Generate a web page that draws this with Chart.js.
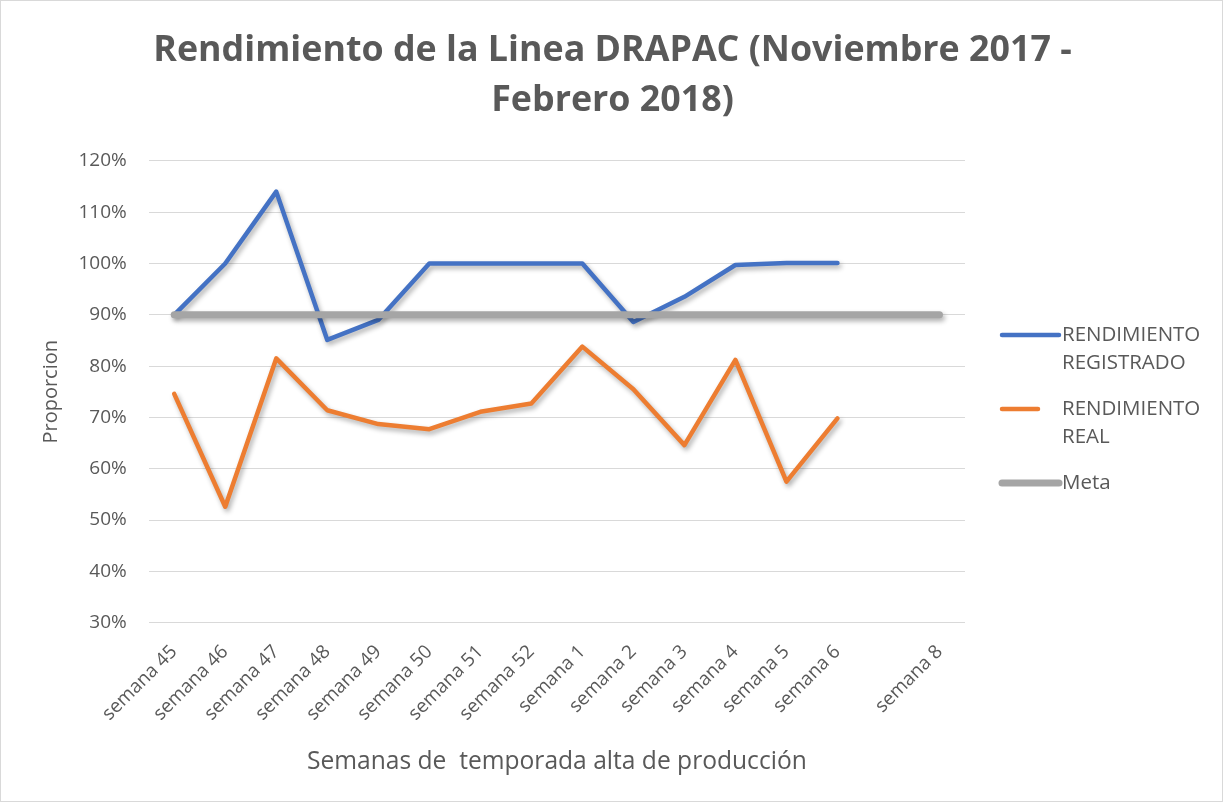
<!DOCTYPE html>
<html>
<head>
<meta charset="utf-8">
<script src="https://cdn.jsdelivr.net/npm/chart.js@4"></script>
<style>
  html, body { margin: 0; padding: 0; background: #ffffff; }
  #wrap { position: absolute; left: 0; top: 0; width: 1225px; height: 803px; }
</style>
</head>
<body>
<div id="wrap"><canvas id="c" width="1225" height="803"></canvas></div>
<script>
// ---- data ----
const categories = ['semana 45', 'semana 46', 'semana 47', 'semana 48', 'semana 49', 'semana 50',
  'semana 51', 'semana 52', 'semana 1', 'semana 2', 'semana 3', 'semana 4', 'semana 5', 'semana 6',
  '', 'semana 8'];
const rendimientoRegistrado = [0.90, 1.00, 1.14, 0.851, 0.89, 1.00, 1.00, 1.00, 1.00, 0.886, 0.935, 0.997, 1.001, 1.001, null, null];
const rendimientoReal = [0.746, 0.526, 0.815, 0.714, 0.687, 0.677, 0.711, 0.727, 0.838, 0.755, 0.646, 0.812, 0.575, 0.698, null, null];
const meta = [0.9, 0.9, 0.9, 0.9, 0.9, 0.9, 0.9, 0.9, 0.9, 0.9, 0.9, 0.9, 0.9, 0.9, 0.9, 0.9];
const seriesNames = ['RENDIMIENTO REGISTRADO', 'RENDIMIENTO REAL', 'Meta'];
const yMin = 0.3, yMax = 1.2, yStep = 0.1;
const titleLines = ['Rendimiento de la Linea DRAPAC (Noviembre 2017 -', 'Febrero 2018)'];
const xTitle = 'Semanas de  temporada alta de producción';
const yTitle = 'Proporcion';

const FONT = '"Open Sans", Lato, sans-serif';
const TEXT = '#595959';

const shadowPlugin = {
  id: 'lineShadow',
  beforeDatasetDraw(chart) {
    const ctx = chart.ctx;
    ctx.save();
    ctx.shadowColor = 'rgba(0,0,0,0.32)';
    ctx.shadowBlur = 5;
    ctx.shadowOffsetX = 2;
    ctx.shadowOffsetY = 3;
  },
  afterDatasetDraw(chart) { chart.ctx.restore(); }
};

const sideLegend = {
  id: 'sideLegend',
  afterDraw(chart) {
    const ctx = chart.ctx;
    const area = chart.chartArea;
    const x0 = area.right + 37;
    const textX = x0 + 60;
    let y = 335;
    ctx.save();
    ctx.font = '20.5px ' + FONT;
    ctx.textBaseline = 'middle';
    ctx.textAlign = 'left';
    chart.data.datasets.forEach((ds, i) => {
      const swLen = i === 1 ? 36 : 57;
      ctx.strokeStyle = ds.borderColor;
      ctx.lineWidth = ds.borderWidth;
      ctx.lineCap = 'round';
      ctx.beginPath();
      ctx.moveTo(x0, y);
      ctx.lineTo(x0 + swLen, y);
      ctx.stroke();
      ctx.fillStyle = TEXT;
      const words = ds.label.split(' ');
      const lines = ctx.measureText(ds.label).width > 160 ? words : [ds.label];
      lines.forEach((ln, k) => ctx.fillText(ln, textX, y + k * 28));
      y += 74;
    });
    ctx.strokeStyle = '#D9D9D9';
    ctx.lineWidth = 1;
    ctx.strokeRect(0.5, 0.5, chart.width - 3, chart.height - 2);
    ctx.restore();
  }
};

new Chart(document.getElementById('c'), {
  type: 'line',
  data: {
    labels: categories,
    datasets: [
      { label: seriesNames[0], data: rendimientoRegistrado, borderColor: '#4472C4', backgroundColor: '#4472C4',
        borderWidth: 4.5, order: 2 },
      { label: seriesNames[1], data: rendimientoReal, borderColor: '#ED7D31', backgroundColor: '#ED7D31',
        borderWidth: 4.5, order: 1 },
      { label: seriesNames[2], data: meta, borderColor: '#A5A5A5', backgroundColor: '#A5A5A5',
        borderWidth: 7, order: 0 }
    ]
  },
  options: {
    responsive: false,
    animation: false,
    devicePixelRatio: 1,
    layout: { padding: 0 },
    elements: {
      point: { radius: 0, hoverRadius: 0 },
      line: { tension: 0, borderCapStyle: 'round', borderJoinStyle: 'round', fill: false }
    },
    plugins: {
      legend: { display: false },
      tooltip: { enabled: false },
      title: {
        display: true,
        text: titleLines,
        color: TEXT,
        font: { family: FONT, size: 35.8, weight: 'bold', lineHeight: 1.4 },
        padding: { top: 26, bottom: 34.6 }
      }
    },
    scales: {
      x: {
        type: 'category',
        offset: true,
        grid: { display: false, drawTicks: false },
        border: { display: false },
        ticks: {
          autoSkip: false,
          minRotation: 45,
          maxRotation: 45,
          padding: 18,
          color: TEXT,
          font: { family: FONT, size: 19 }
        },
        title: {
          display: true,
          text: xTitle,
          color: TEXT,
          font: { family: FONT, size: 24.6, lineHeight: 1.2 },
          padding: { top: 0, bottom: 26 }
        },
        afterFit(scale) { scale.height = 180.3; }
      },
      y: {
        min: yMin,
        max: yMax,
        grid: { color: '#D9D9D9', lineWidth: 1, drawTicks: false },
        border: { display: false },
        ticks: {
          stepSize: yStep,
          padding: 22,
          color: TEXT,
          font: { family: FONT, size: 19 },
          callback: (v) => Math.round(v * 100) + '%'
        },
        title: {
          display: true,
          text: yTitle,
          color: TEXT,
          font: { family: FONT, size: 20, lineHeight: 1.2 },
          padding: { top: 39, bottom: 0 }
        },
        afterFit(scale) { scale.width = 148.7; }
      },
      ySide: {
        position: 'right',
        display: true,
        grid: { display: false, drawTicks: false },
        border: { display: false },
        ticks: { display: false },
        afterFit(scale) { scale.width = 260; }
      }
    }
  },
  plugins: [shadowPlugin, sideLegend]
});
</script>
</body>
</html>
